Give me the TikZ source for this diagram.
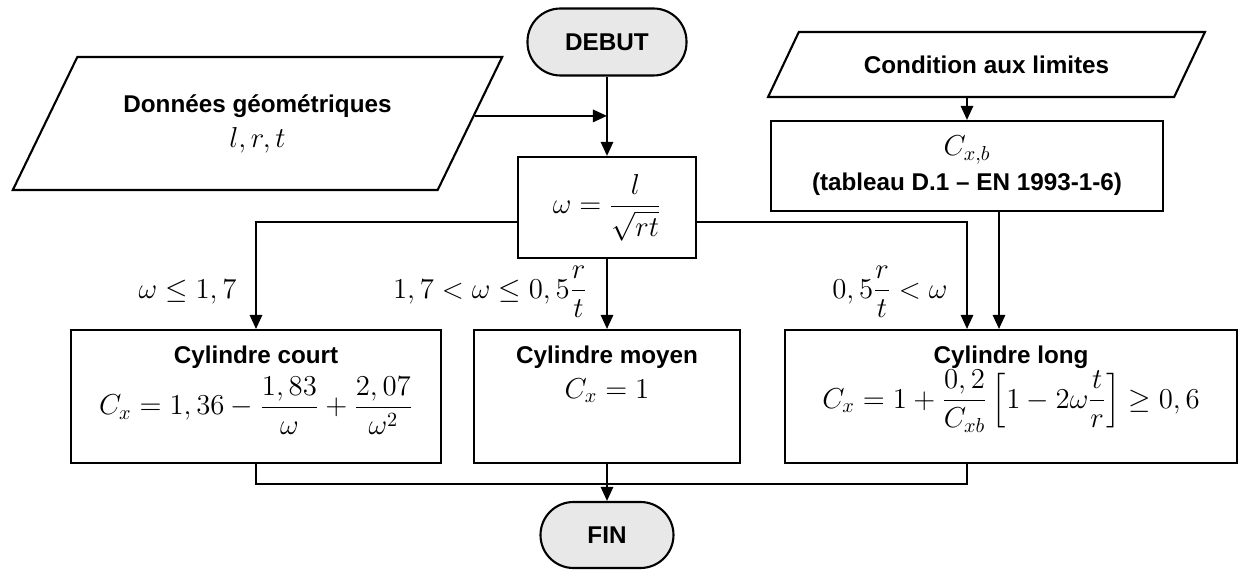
\RequirePackage{fix-cm}
\documentclass[tikz,border=0pt]{standalone}
\usepackage{amsmath}
\usepackage{fontspec}
\usetikzlibrary{shapes.geometric, positioning, arrows.meta}

\newfontfamily\flowsans{Liberation Sans}
\newcommand{\titrefont}{\fontsize{13.8}{16}\selectfont\flowsans\bfseries}
\newcommand{\titre}[1]{{\titrefont #1}}
\newcommand{\mathsz}{\fontsize{16.4}{20}\selectfont}
\definecolor{termgray}{HTML}{E8E8E8}

\begin{document}
\begin{tikzpicture}[
        line width=1.2pt,
        arr/.style={-{Triangle[length=8pt,width=7pt]}},
        term/.style={draw, fill=termgray, rounded corners=0.66cm, minimum height=1.34cm, font=\titrefont},
        data/.style={draw, trapezium, trapezium left angle=54.5, trapezium right angle=125.5,
            trapezium stretches=true, align=center, font=\mathsz},
        calc/.style={draw, align=center, font=\mathsz},
        cyl/.style={draw, align=flush center, inner sep=0pt, text height=0.66cm, text depth=2cm, font=\mathsz},
        lbl/.style={anchor=east, inner sep=2pt, xshift=-0.3cm, font=\mathsz}]
        \useasboundingbox (0,0) rectangle (24.84,11.4);

        % start and input data
        \node[term, minimum width=3.18cm] (debut) at (12.14,10.56) {DEBUT};
        \node[data, minimum width=9.82cm, minimum height=2.66cm] (donnees) at (5.15,8.93)
            {\titre{Données géométriques}\\ $l, r, t$};
        \node[data, minimum width=8.74cm, minimum height=1.3cm, font=\titrefont] (cond) at (19.73,10.11)
            {Condition aux limites};

        % slenderness and Cx,b
        \node[calc, minimum width=3.56cm, minimum height=2.02cm] (omega) at (12.14,7.25)
            {$\omega = \dfrac{l}{\sqrt{rt}}$};
        \node[calc, minimum width=7.84cm, minimum height=1.8cm] (cxb) at (19.34,8.08)
            {$C_{x,b}$\\ \titre{(tableau D.1 – EN 1993-1-6)}};

        % the three cylinder cases
        \node[cyl, text width=7.4cm, anchor=north] (court) at (5.12,4.82)
            {\titre{Cylindre court}\\[4pt] $C_x = 1,36 - \dfrac{1,83}{\omega} + \dfrac{2,07}{\omega^2}$};
        \node[cyl, text width=5.32cm, anchor=north] (moyen) at (12.14,4.82)
            {\titre{Cylindre moyen}\\ $C_x = 1$};
        \node[cyl, text width=9.04cm, anchor=north] (long) at (20.22,4.82)
            {\titre{Cylindre long}\\ $C_x = 1 + \dfrac{0,2}{C_{xb}}\left[1 - 2\omega\dfrac{t}{r}\right] \geq 0,6$};

        \node[term, minimum width=2.66cm, minimum height=1.32cm] (fin) at (12.14,0.70) {FIN};

        \coordinate (lin) at (cxb.south |- long.north);
        \coordinate (cxbout) at ([xshift=0.64cm]cxb.south);

        %arrows
        \draw[arr] (debut) -- (omega);
        \draw[arr] (donnees.2) -- (donnees.2 -| debut.south);
        \draw[arr] (cond.south -| cxb.north) -- (cxb.north);
        \draw[arr] ([yshift=-0.29cm]omega.west) -| (court.north);
        \draw[arr] (omega) -- (moyen);
        \draw[arr] ([yshift=-0.29cm]omega.east) -| (lin);
        \draw[arr] (cxbout) -- (cxbout |- long.north);
        \draw (court.south) -- ++(0,-0.4) -| (long.south -| lin);
        \draw[arr] (moyen) -- (fin);

        %conditions
        \node[lbl] (cond1) at ([yshift=0.74cm]court.north) {$\omega \leq 1,7$};
        \node[lbl] (cond2) at ([yshift=0.74cm]moyen.north) {$1,7 < \omega \leq 0,5\dfrac{r}{t}$};
        \node[lbl] (cond3) at ([yshift=0.74cm]lin) {$0,5\dfrac{r}{t} < \omega$};
    \end{tikzpicture}
\end{document}
